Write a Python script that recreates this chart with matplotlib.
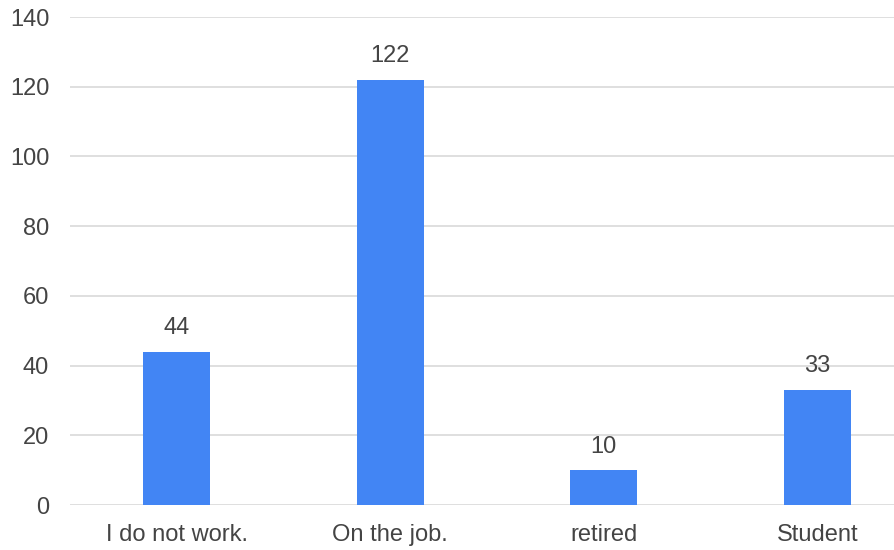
import matplotlib.pyplot as plt
import numpy as np

plt.rcParams['font.family'] = ['Liberation Sans', 'DejaVu Sans']
plt.rcParams['figure.dpi'] = 100

categories = ["I do not work.", "On the job.", "retired", "Student"]
counts = [44, 122, 10, 33]
yticks = [0, 20, 40, 60, 80, 100, 120, 140]

fig = plt.figure(figsize=(8.94, 5.5))
# plot area runs past the right edge, like the cropped original
ax = fig.add_axes([70 / 894, 45 / 550, 854 / 894, 488 / 550])

x = np.arange(len(categories))
bars = ax.bar(x, counts, width=0.314, color='#4285f4', zorder=3)
ax.bar_label(bars, labels=[str(c) for c in counts], padding=9,
             fontsize=17, color='#444444')

ax.set_xlim(-0.5, len(categories) - 0.5)
ax.set_ylim(0, 140)
ax.set_yticks(yticks)
ax.set_xticks(x)
ax.set_xticklabels(categories)
ax.yaxis.grid(True, color='#d9d9d9', linewidth=1.2, zorder=0)
for s in ax.spines.values():
    s.set_visible(False)
ax.tick_params(axis='both', length=0, labelsize=17, colors='#444444')
ax.tick_params(axis='y', pad=15)
ax.tick_params(axis='x', pad=14)

fig.savefig('out.png', dpi=100)
